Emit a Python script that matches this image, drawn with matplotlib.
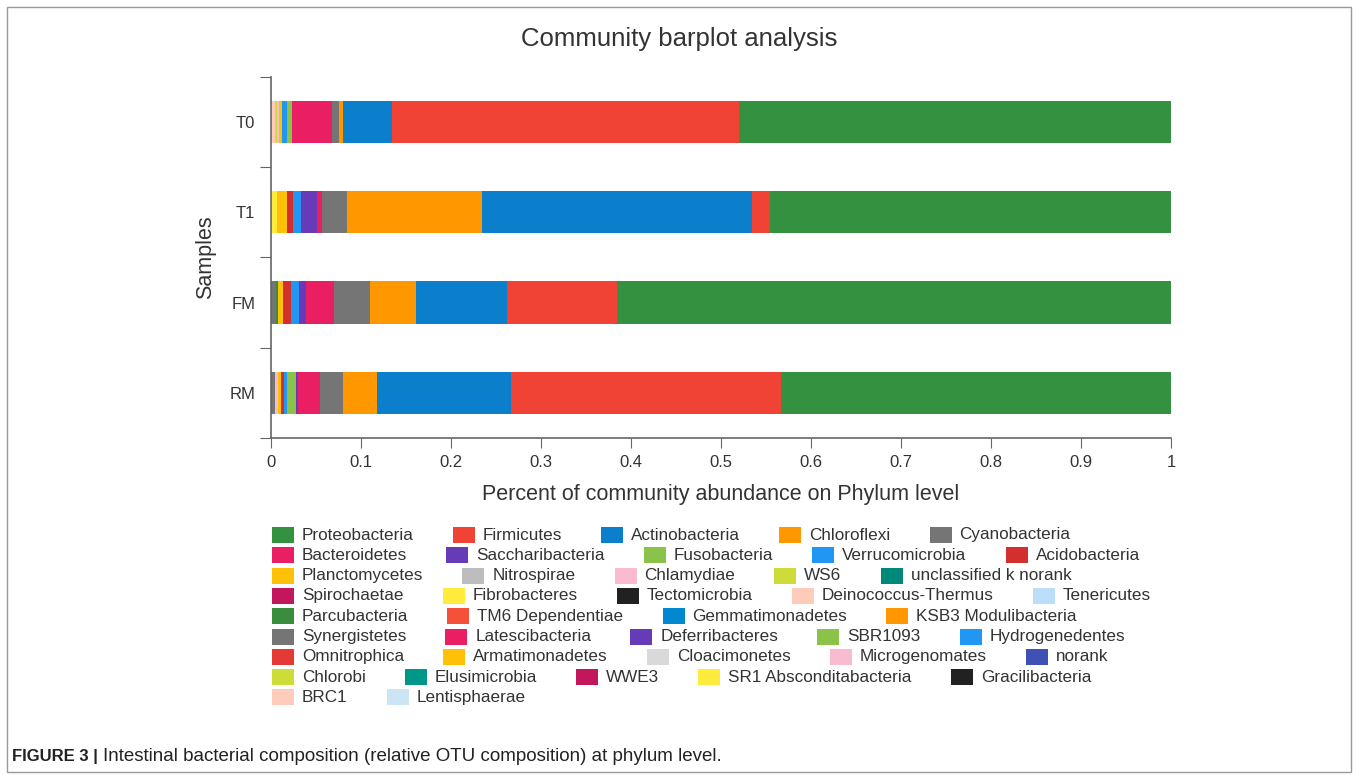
import numpy as np
import matplotlib
matplotlib.use("Agg")
import matplotlib.pyplot as plt
from matplotlib.patches import Rectangle

plt.rcParams['font.family'] = ['Liberation Sans', 'DejaVu Sans']

W, H = 1358, 775

samples = ["T0", "T1", "FM", "RM"]

phyla = ["Proteobacteria", "Firmicutes", "Actinobacteria", "Chloroflexi", "Cyanobacteria",
         "Bacteroidetes", "Saccharibacteria", "Fusobacteria", "Verrucomicrobia", "Acidobacteria",
         "Planctomycetes", "Nitrospirae", "Chlamydiae", "WS6", "unclassified k norank",
         "Spirochaetae", "Fibrobacteres", "Tectomicrobia", "Deinococcus-Thermus", "Tenericutes",
         "Parcubacteria", "TM6 Dependentiae", "Gemmatimonadetes", "KSB3 Modulibacteria",
         "Synergistetes", "Latescibacteria", "Deferribacteres", "SBR1093", "Hydrogenedentes",
         "Omnitrophica", "Armatimonadetes", "Cloacimonetes", "Microgenomates", "norank",
         "Chlorobi", "Elusimicrobia", "WWE3", "SR1 Absconditabacteria", "Gracilibacteria",
         "BRC1", "Lentisphaerae"]

colors = ["#33913f", "#f04336", "#0b7fcb", "#ff9800", "#757575",
          "#e91e63", "#673ab7", "#8bc34a", "#2196f3", "#d32f2f",
          "#ffc107", "#bdbdbd", "#f8bbd0", "#cddc39", "#00897b",
          "#c2185b", "#ffeb3b", "#212121", "#ffccbc", "#bbdefb",
          "#388e3c", "#f4503a", "#0288d1", "#ff9800",
          "#757575", "#e91e63", "#673ab7", "#8bc34a", "#2196f3",
          "#e53935", "#ffc107", "#d9d9d9", "#f8bbd0", "#3f51b5",
          "#cddc39", "#009688", "#c2185b", "#ffeb3b", "#212121",
          "#ffccbc", "#cce5f5"]

# relative abundance per sample (phyla not listed are 0)
t0_values = {"Proteobacteria": 0.48, "Firmicutes": 0.385, "Actinobacteria": 0.055,
             "Chloroflexi": 0.0042, "Cyanobacteria": 0.0081, "Bacteroidetes": 0.0437,
             "Fusobacteria": 0.0062, "Verrucomicrobia": 0.0056, "Planctomycetes": 0.0027,
             "Chlamydiae": 0.003, "WS6": 0.002, "Deinococcus-Thermus": 0.0045}
t1_values = {"Proteobacteria": 0.445, "Firmicutes": 0.02, "Actinobacteria": 0.30,
             "Chloroflexi": 0.1499, "Cyanobacteria": 0.0277, "Bacteroidetes": 0.0056,
             "Saccharibacteria": 0.0185, "Verrucomicrobia": 0.0081, "Acidobacteria": 0.0074,
             "Planctomycetes": 0.0111, "Fibrobacteres": 0.0067}
fm_values = {"Proteobacteria": 0.615, "Firmicutes": 0.123, "Actinobacteria": 0.101,
             "Chloroflexi": 0.0507, "Cyanobacteria": 0.0396, "Bacteroidetes": 0.0318,
             "Saccharibacteria": 0.0075, "Verrucomicrobia": 0.0089, "Acidobacteria": 0.0085,
             "Planctomycetes": 0.0055, "Parcubacteria": 0.0026, "Synergistetes": 0.0059}
rm_values = {"Proteobacteria": 0.433, "Firmicutes": 0.30, "Actinobacteria": 0.1493,
             "Chloroflexi": 0.0377, "Cyanobacteria": 0.0252, "Bacteroidetes": 0.0248,
             "Saccharibacteria": 0.0019, "Fusobacteria": 0.0103, "Verrucomicrobia": 0.003,
             "Acidobacteria": 0.0038, "Planctomycetes": 0.0025, "Chlamydiae": 0.0037,
             "Synergistetes": 0.0048}
sample_values = [t0_values, t1_values, fm_values, rm_values]

txt = "#333333"
fig = plt.figure(figsize=(W / 100, H / 100), dpi=100)
ax = fig.add_axes([270.7 / W, 1 - 438 / H, (1171 - 270.7) / W, (438 - 76.7) / H])

ypos = np.arange(len(samples))
lefts = np.zeros(len(samples))
for name, col in reversed(list(zip(phyla, colors))):
    vals = np.array([sv.get(name, 0.0) for sv in sample_values])
    ax.barh(ypos, vals, left=lefts, height=0.47, color=col, linewidth=0)
    lefts += vals

ax.set_xlim(0, 1)
ax.set_ylim(len(samples) - 0.5, -0.5)
ax.set_xticks(np.arange(0, 1.01, 0.1))
ax.set_xticklabels(["0"] + ["%.1f" % v for v in np.arange(0.1, 0.95, 0.1)] + ["1"])
ax.set_yticks(np.arange(-0.5, len(samples), 1.0))
ax.set_yticklabels([])
ax.set_yticks(ypos, minor=True)
ax.set_yticklabels(samples, minor=True)
ax.tick_params(axis='y', which='minor', length=0, pad=11, labelsize=12, labelcolor=txt)
ax.tick_params(axis='y', which='major', length=8, color="#666666")
ax.tick_params(axis='x', length=7, color="#666666", labelsize=12, labelcolor=txt, pad=5)
for s in ["top", "right"]:
    ax.spines[s].set_visible(False)
for s in ["left", "bottom"]:
    ax.spines[s].set_color("#666666")
    ax.spines[s].set_linewidth(1.2)

ax.set_xlabel("Percent of community abundance on Phylum level", fontsize=15.5, color=txt, labelpad=10)
ax.set_ylabel("Samples", fontsize=15.5, color=txt, labelpad=10)
fig.text(0.5, 1 - 39 / H, "Community barplot analysis", fontsize=18.5, color=txt,
         ha="center", va="center")

# flowing legend under the axis
renderer = fig.canvas.get_renderer()
x0, right = 272, 1171
x, row = x0, 0
for name, col in zip(phyla, colors):
    t = fig.text(0, 0, name, fontsize=12.3, color=txt, va="center", ha="left")
    w = t.get_window_extent(renderer).width
    if x + 30 + w > right + 5 and x > x0:
        row += 1
        x = x0
    y = 535 + row * 20.3
    fig.patches.append(Rectangle((x / W, 1 - (y + 8) / H), 22 / W, 16 / H,
                                 transform=fig.transFigure, facecolor=col, edgecolor="none"))
    t.set_position(((x + 30) / W, 1 - y / H))
    x += 30 + w + 39

# caption and frame
cap_font = ['Liberation Sans Narrow', 'Liberation Sans']
c1 = fig.text(12 / W, 1 - 761 / H, "FIGURE 3 |", fontsize=12, fontweight="bold",
              family=cap_font, color="#222222", va="baseline")
cw = c1.get_window_extent(renderer).width
fig.text((12 + cw + 5) / W, 1 - 761 / H,
         "Intestinal bacterial composition (relative OTU composition) at phylum level.",
         fontsize=13.5, family=cap_font, color="#222222", va="baseline")
fig.patches.append(Rectangle((7 / W, 1 - 772 / H), (1351 - 7) / W, (772 - 7) / H,
                             transform=fig.transFigure, facecolor="none",
                             edgecolor="#999999", linewidth=1))

fig.savefig("out.png", dpi=100)
